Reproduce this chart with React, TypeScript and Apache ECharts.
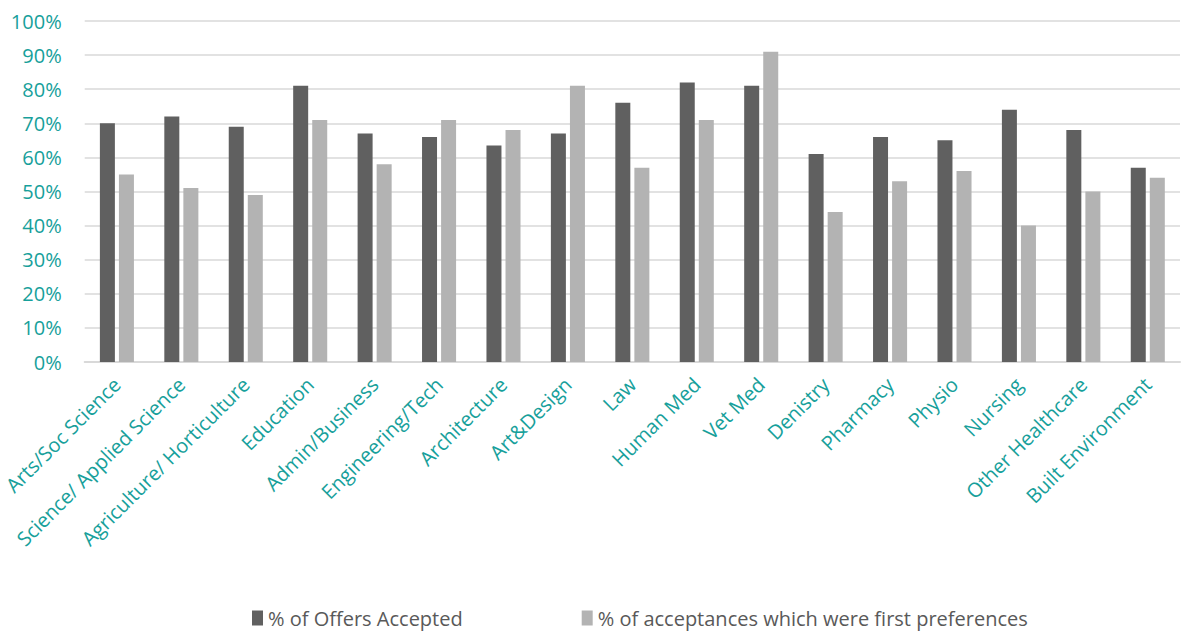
import React, { useEffect, useRef } from "react";
import * as echarts from "echarts";

const categories = [
  "Arts/Soc Science",
  "Science/ Applied Science",
  "Agriculture/ Horticulture",
  "Education",
  "Admin/Business",
  "Engineering/Tech",
  "Architecture",
  "Art&Design",
  "Law",
  "Human Med",
  "Vet Med",
  "Denistry",
  "Pharmacy",
  "Physio",
  "Nursing",
  "Other Healthcare",
  "Built Environment",
];

const offersAccepted = [70, 72, 69, 81, 67, 66, 63.5, 67, 76, 82, 81, 61, 66, 65, 74, 68, 57];
const firstPreferences = [55, 51, 49, 71, 58, 71, 68, 81, 57, 71, 91, 44, 53, 56, 40, 50, 54];

const yTicks = [0, 10, 20, 30, 40, 50, 60, 70, 80, 90, 100];

const TEAL = "#17a09b";
const FONT = "'Open Sans', 'Noto Sans', sans-serif";

export default function App() {
  const ref = useRef<HTMLDivElement>(null);
  useEffect(() => {
    if (!ref.current) return;
    const chart = echarts.init(ref.current, undefined, { renderer: "svg" });
    chart.setOption({
      animation: false,
      textStyle: { fontFamily: FONT },
      grid: { left: 81, right: 7, top: 21, bottom: 269, containLabel: false },
      legend: {
        left: 247,
        top: 602,
        itemWidth: 11,
        itemHeight: 15,
        itemGap: 119,
        icon: "rect",
        textStyle: { color: "#595959", fontSize: 20, fontFamily: FONT, lineHeight: 22 },
        data: ["% of Offers Accepted", "% of acceptances which were first preferences"],
      },
      xAxis: {
        type: "category",
        data: categories,
        axisLine: { show: true, lineStyle: { color: "#d9d9d9", width: 2 } },
        axisTick: { show: false },
        axisLabel: {
          rotate: 45,
          color: TEAL,
          fontSize: 20,
          fontFamily: FONT,
          interval: 0,
          margin: 19,
        },
      },
      yAxis: {
        type: "value",
        min: yTicks[0],
        max: yTicks[yTicks.length - 1],
        interval: 10,
        axisLine: { show: false },
        axisTick: { show: false },
        splitLine: { lineStyle: { color: "#d9d9d9", width: 1.5 } },
        axisLabel: {
          color: TEAL,
          fontSize: 20,
          fontFamily: FONT,
          margin: 23,
          formatter: (v: number) => `${v}%`,
        },
      },
      series: [
        {
          name: "% of Offers Accepted",
          type: "bar",
          data: offersAccepted,
          barWidth: 15,
          barGap: "27%",
          itemStyle: { color: "#606060" },
        },
        {
          name: "% of acceptances which were first preferences",
          type: "bar",
          data: firstPreferences,
          barWidth: 15,
          itemStyle: { color: "#b3b3b3" },
        },
      ],
    });
    return () => chart.dispose();
  }, []);
  return (
    <div
      ref={ref}
      style={{ position: "absolute", left: 0, top: 0, width: 1187, height: 631, background: "#fff" }}
    />
  );
}
